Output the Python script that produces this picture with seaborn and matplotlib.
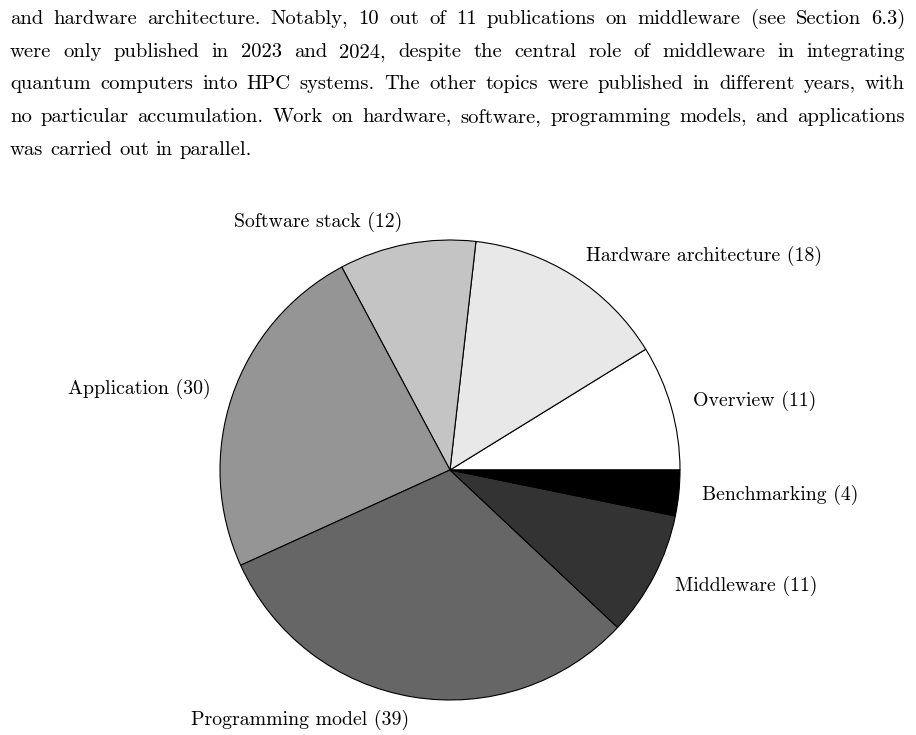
import matplotlib
matplotlib.use("Agg")
import matplotlib.pyplot as plt
import seaborn as sns

# topics and publication counts
topics = ['Overview', 'Hardware architecture', 'Software stack', 'Application',
          'Programming model', 'Middleware', 'Benchmarking']
counts = [11, 18, 12, 30, 39, 11, 4]
grays = ['#ffffff', '#e8e8e8', '#c4c4c4', '#959595', '#666666', '#333333', '#000000']

paragraph = [
    "and hardware architecture. Notably, 10 out of 11 publications on middleware (see Section 6.3)",
    "were only published in 2023 and 2024, despite the central role of middleware in integrating",
    "quantum computers into HPC systems. The other topics were published in different years, with",
    "no particular accumulation. Work on hardware, software, programming models, and applications",
    "was carried out in parallel.",
]

sns.set_theme(style="white")
plt.rcParams['font.family'] = ['cmr10', 'DejaVu Serif']
plt.rcParams['axes.formatter.use_mathtext'] = True
plt.rcParams['text.color'] = 'black'

W, H = 916, 735
fig = plt.figure(figsize=(W / 100, H / 100), dpi=100)
fig.patch.set_facecolor('white')

# justified paragraph above the chart
fs_par = 14.8
renderer = fig.canvas.get_renderer()
x_left, x_right = 10, 905
baselines = [24, 57, 89, 122, 155]
sp = fig.text(0, 0, 'a a', fontsize=fs_par)
sp2 = fig.text(0, 0, 'aa', fontsize=fs_par)
space = sp.get_window_extent(renderer).width - sp2.get_window_extent(renderer).width
sp.remove()
sp2.remove()
for i, line in enumerate(paragraph):
    words = line.split(' ')
    texts = [fig.text(0, 1 - baselines[i] / H, w, fontsize=fs_par, va='baseline', ha='left')
             for w in words]
    widths = [t.get_window_extent(renderer).width for t in texts]
    if i < len(paragraph) - 1:
        gap = (x_right - x_left - sum(widths)) / (len(words) - 1)
    else:
        gap = space
    x = x_left
    for t, w in zip(texts, widths):
        t.set_x(x / W)
        x += w + gap

# pie chart
R = 230
cx, cy = 450, 470
half = R * 1.25
ax = fig.add_axes([(cx - half) / W, (H - cy - half) / H, 2 * half / W, 2 * half / H])
labels = [f"{t} ({c})" for t, c in zip(topics, counts)]
ax.pie(counts, labels=labels, colors=grays, startangle=0, counterclock=True,
       labeldistance=1.1, textprops={'fontsize': 14.3, 'color': 'black'},
       wedgeprops={'edgecolor': 'black', 'linewidth': 0.8})
ax.set_xlim(-1.25, 1.25)
ax.set_ylim(-1.25, 1.25)
ax.set_aspect('equal')
ax.axis('off')

fig.savefig('out.png', dpi=100, facecolor='white')
